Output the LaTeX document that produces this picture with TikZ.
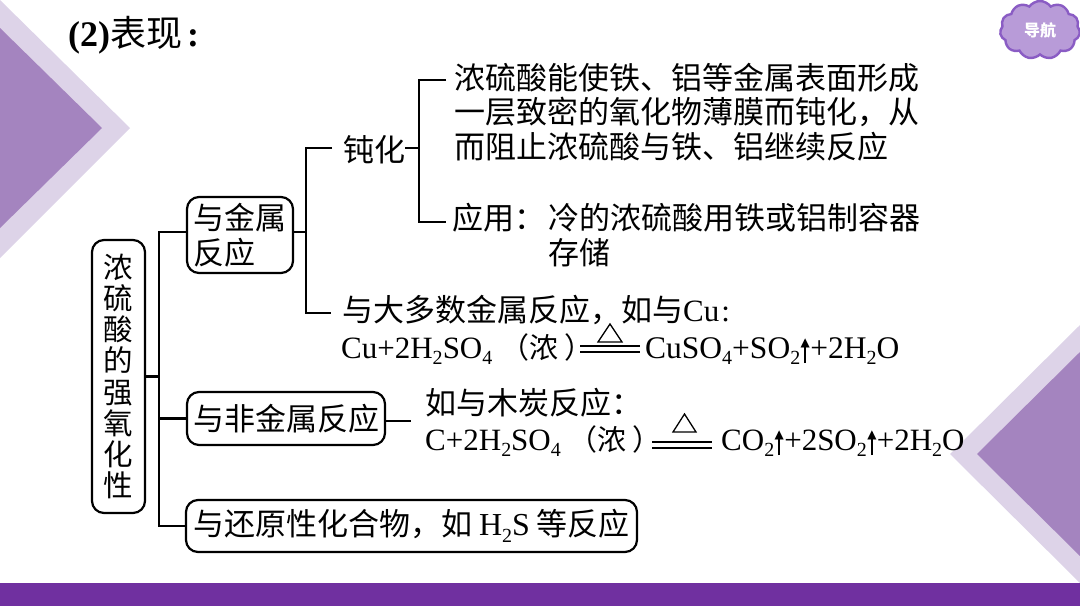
\documentclass[tikz,border=0pt]{standalone}
\usepackage{fontspec}
\usetikzlibrary{shapes.symbols}
\setmainfont{Liberation Serif}
\newfontfamily\cjk{Noto Sans CJK SC}
\newfontfamily\symfont{DejaVu Sans}
\newcommand{\subn}[1]{\raisebox{-0.22em}{\fontsize{20}{20}\selectfont #1}}
\newcommand{\gasup}{\makebox[10pt]{\raisebox{-5pt}{\rule{2pt}{23pt}}}\kern-10pt\makebox[10pt]{\raisebox{12pt}{\symfont\fontsize{12}{12}\selectfont ▲}}}
\newcommand{\concn}{\kern8pt{\cjk\fontsize{29}{29}\selectfont （浓\kern6pt）}}
\definecolor{lightpurple}{HTML}{DDD3E8}
\definecolor{midpurple}{HTML}{A484BF}
\definecolor{bandpurple}{HTML}{7030A0}
\definecolor{cloudfill}{HTML}{B89BD8}
\definecolor{cloudline}{HTML}{8A5CC4}
\tikzset{
  txt/.style={anchor=west,inner sep=0pt,font=\fontsize{31}{34.5}\selectfont\cjk,align=left},
  formula/.style={anchor=base west,inner sep=0pt,font=\fontsize{31}{34}\selectfont},
  box/.style={draw,rounded corners=12pt,line width=2.2pt,inner sep=0pt,font=\fontsize{31}{35}\selectfont\cjk},
  link/.style={line width=2.2pt}
}
\begin{document}
\begin{tikzpicture}[x=1pt,y=-1pt]
\useasboundingbox (0,0) rectangle (1080,606);
% Background
\fill[lightpurple] (0,0) -- (130,128) -- (0,258) -- cycle;
\fill[midpurple] (0,28) -- (102,128) -- (0,228) -- cycle;
\fill[lightpurple] (1080,325) -- (950,454) -- (1080,583) -- cycle;
\fill[midpurple] (1080,352) -- (977,454) -- (1080,556) -- cycle;
\fill[bandpurple] (0,583) rectangle (1080,606);
% Title and cloud
\node[anchor=base west,inner sep=0pt,font=\fontsize{36}{36}\selectfont\bfseries] (title) at (68,46) {(2){\cjk\mdseries 表现}\kern5pt:};
\node[cloud,cloud puffs=11,cloud puff arc=110,draw=cloudline,fill=cloudfill,line width=2.4pt,minimum width=80pt,minimum height=58pt,inner sep=0pt,text=white,font=\fontsize{16}{16}\selectfont\cjk\bfseries] (nav) at (1040,30) {导航};
% Boxes
\node[box,minimum width=53pt,minimum height=273pt,align=center,font=\fontsize{29.5}{31.2}\selectfont\cjk] (root) at (118.5,376.5) {浓\\硫\\酸\\的\\强\\氧\\化\\性};
\node[box,minimum width=106pt,minimum height=76pt,align=left] (metal) at (240,235) {与金属\\反应};
\node[box,minimum width=198pt,minimum height=53pt] (nonmetal) at (286,418.5) {与非金属反应};
\node[box,minimum width=451pt,minimum height=52pt] (reducer) at (411.5,526) {与还原性化合物，如 {\rmfamily\fontsize{32}{32}\selectfont H\subn{2}S} 等反应};
% Texts
\node[txt] (passive) at (343,150) {钝化};
\node[txt] (film) at (454,112) {浓硫酸能使铁、铝等金属表面形成\\一层致密的氧化物薄膜而钝化，从\\而阻止浓硫酸与铁、铝继续反应};
\node[txt] (useA) at (452,218) {应用：\kern3pt 冷的浓硫酸用铁或铝制容器};
\node[txt] (useB) at (548,253) {存储};
\node[txt] (most) at (342,310) {与大多数金属反应，如与{\rmfamily Cu\kern2pt:}};
\node[txt] (carbon) at (425,403) {如与木炭反应：};
% Equations
\node[formula] (eqAl) at (341,358) {Cu+2H\subn{2}SO\subn{4}\concn};
\node[formula,font=\fontsize{31.5}{34}\selectfont] (eqAr) at (645,358) {CuSO\subn{4}+SO\subn{2}\gasup+2H\subn{2}O};
\node[formula] (eqBl) at (425,450) {C+2H\subn{2}SO\subn{4}\concn};
\node[formula] (eqBr) at (721,450) {CO\subn{2}\gasup+2SO\subn{2}\gasup+2H\subn{2}O};
\coordinate (eqAa) at (580,345);
\coordinate (eqAb) at (640,345);
\coordinate (eqBa) at (652,441);
\coordinate (eqBb) at (712,441);
\foreach \p/\q in {eqAa/eqAb,eqBa/eqBb} {
  \draw[line width=2pt] ([yshift=-1pt]\p) -- ([yshift=-1pt]\q);
  \draw[line width=2pt] ([yshift=-7pt]\p) -- ([yshift=-7pt]\q);
}
\draw[line width=1.3pt,line join=miter] (598,342) -- (622,342) -- (610,324) -- cycle;
\draw[line width=1.3pt,line join=miter] (673,432) -- (696,432) -- (684.5,414) -- cycle;
% Connectors
\coordinate (spineTop) at (159,232);
\coordinate (spineBot) at (159,526);
\coordinate (metalTop) at (306,148);
\coordinate (metalBot) at (306,313);
\coordinate (passEnd) at (332,148);
\coordinate (passTop) at (419,80);
\coordinate (passBot) at (419,222);
\coordinate (filmEnd) at (446,80);
\coordinate (useEnd) at (446,222);
\coordinate (mostEnd) at (331,313);
\coordinate (carbonEnd) at (411,421);
\draw[link] (metal.west |- spineTop) -- (spineTop) -- (spineBot) -- (reducer.west);
\draw[link] (root.east) -- (root.east -| spineTop);
\draw[link] (spineTop |- nonmetal.west) -- (nonmetal.west);
\draw[link] (metal.east |- spineTop) -- (spineTop -| metalTop);
\draw[link] (passEnd) -- (metalTop) -- (metalBot) -- (mostEnd);
\draw[link] (passive.east |- metalTop) -- (metalTop -| passTop);
\draw[link] (filmEnd) -- (passTop) -- (passBot) -- (useEnd);
\draw[link] (nonmetal.east |- carbonEnd) -- (carbonEnd);
\end{tikzpicture}
\end{document}
